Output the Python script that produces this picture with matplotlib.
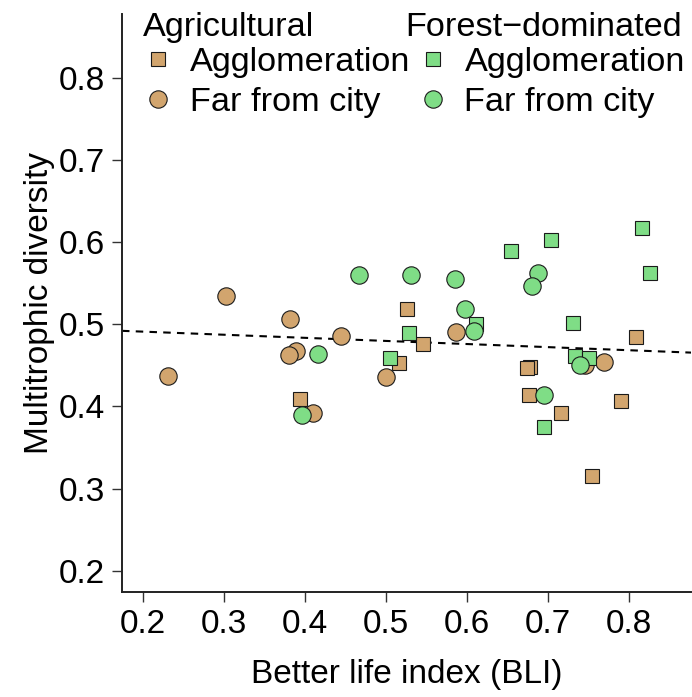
import matplotlib
matplotlib.use("Agg")
import matplotlib.pyplot as plt
import numpy as np
from matplotlib.lines import Line2D

plt.rcParams["font.family"] = ["Liberation Sans", "DejaVu Sans"]

# Agricultural landscapes
agri_agglo_bli = [0.394, 0.526, 0.516, 0.546, 0.678, 0.674, 0.676, 0.716, 0.790, 0.754, 0.809]
agri_agglo_div = [0.409, 0.519, 0.453, 0.476, 0.448, 0.447, 0.414, 0.392, 0.407, 0.315, 0.484]
agri_far_bli = [0.231, 0.303, 0.381, 0.389, 0.380, 0.410, 0.444, 0.500, 0.587, 0.746, 0.769]
agri_far_div = [0.437, 0.534, 0.507, 0.468, 0.463, 0.392, 0.486, 0.436, 0.491, 0.450, 0.454]

# Forest-dominated landscapes
forest_agglo_bli = [0.528, 0.505, 0.816, 0.704, 0.654, 0.826, 0.731, 0.611, 0.733, 0.750, 0.695]
forest_agglo_div = [0.489, 0.459, 0.617, 0.603, 0.589, 0.562, 0.502, 0.500, 0.461, 0.459, 0.375]
forest_far_bli = [0.467, 0.531, 0.416, 0.396, 0.585, 0.688, 0.680, 0.598, 0.609, 0.695, 0.740]
forest_far_div = [0.560, 0.560, 0.464, 0.390, 0.555, 0.563, 0.547, 0.519, 0.492, 0.414, 0.450]

# Fitted trend line: intercept, slope
trend_coef = [0.4986, -0.0377]

x_ticks = [0.2, 0.3, 0.4, 0.5, 0.6, 0.7, 0.8]
y_ticks = [0.2, 0.3, 0.4, 0.5, 0.6, 0.7, 0.8]

TAN = "#D2A56E"
GREEN = "#7FDD86"
EDGE = "#1a1a1a"
FS = 24
FS_LEG = 24.7

fig = plt.figure(figsize=(6.92, 6.97), dpi=100)
ax = fig.add_axes([122 / 692, 1 - 592 / 697, (691 - 122) / 692, (592 - 14) / 697])

xlim = (0.17407, 0.87654)
ylim = (0.1743, 0.8775)
ax.set_xlim(*xlim)
ax.set_ylim(*ylim)

# trend line across the plotting range
xs = np.array(xlim)
ax.plot(xs, trend_coef[0] + trend_coef[1] * xs, ls=(0, (3.6, 3.0)), color="black",
        lw=1.5, zorder=1)

ms = 12.5
sq = 10.5
kw = dict(markeredgecolor=EDGE, markeredgewidth=0.8, ls="none", zorder=3)
ax.plot(agri_agglo_bli, agri_agglo_div, marker="s", ms=sq, markerfacecolor=TAN, **kw)
ax.plot(agri_far_bli, agri_far_div, marker="o", ms=ms, markerfacecolor=TAN, **kw)
ax.plot(forest_agglo_bli, forest_agglo_div, marker="s", ms=sq, markerfacecolor=GREEN, **kw)
ax.plot(forest_far_bli, forest_far_div, marker="o", ms=ms, markerfacecolor=GREEN, **kw)

ax.set_xticks(x_ticks)
ax.set_xticklabels([f"{v:.1f}" for v in x_ticks])
ax.set_yticks(y_ticks)
ax.set_yticklabels([f"{v:.1f}" for v in y_ticks])
ax.tick_params(axis="both", labelsize=FS, length=7, width=1.0, color="#333333")
ax.tick_params(axis="x", pad=5)
ax.tick_params(axis="y", pad=5)

for s in ("top", "right"):
    ax.spines[s].set_visible(False)
for s in ("left", "bottom"):
    ax.spines[s].set_linewidth(1.4)
    ax.spines[s].set_color("#222222")

ax.set_xlabel("Better life index (BLI)", fontsize=FS, labelpad=14)
ax.set_ylabel("Multitrophic diversity", fontsize=FS, labelpad=3)

# group legends
def group_legend(color, x_left, labels):
    handles = [
        Line2D([], [], marker="s", ms=sq, markerfacecolor=color, markeredgecolor=EDGE,
               markeredgewidth=0.8, ls="none"),
        Line2D([], [], marker="o", ms=ms, markerfacecolor=color, markeredgecolor=EDGE,
               markeredgewidth=0.8, ls="none"),
    ]
    leg = ax.legend(handles, labels, loc="upper left", frameon=False, fontsize=FS_LEG,
                    bbox_to_anchor=(x_left / 692, 1 - 47 / 697),
                    bbox_transform=fig.transFigure, borderpad=0, borderaxespad=0,
                    handlelength=0.9, handletextpad=0.47, labelspacing=0.27)
    return leg

leg1 = group_legend(TAN, 142.7, ["Agglomeration", "Far from city"])
ax.add_artist(leg1)
group_legend(GREEN, 417.5, ["Agglomeration", "Far from city"])

fig.text(142.7 / 692, 1 - 36 / 697, "Agricultural", fontsize=FS_LEG, va="baseline", ha="left")
fig.text(405.7 / 692, 1 - 36 / 697, "Forest\u2212dominated", fontsize=FS_LEG, va="baseline", ha="left")

fig.savefig("out.png", dpi=100)
